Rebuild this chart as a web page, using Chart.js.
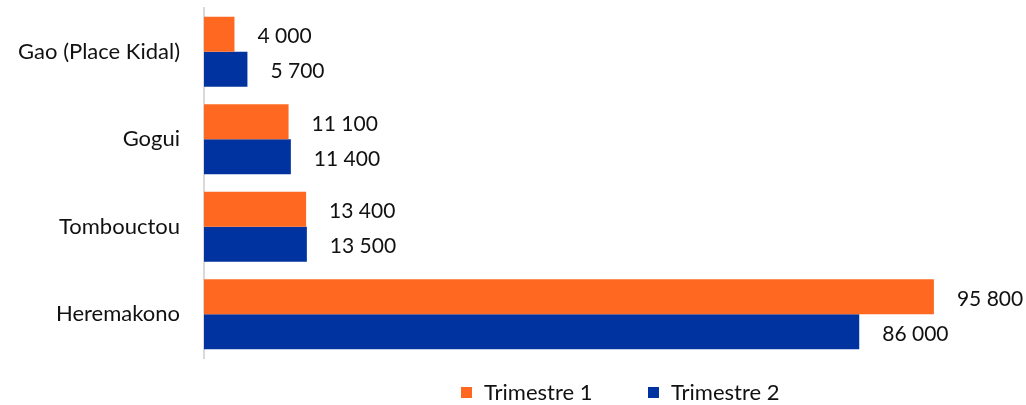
<!DOCTYPE html>
<html>
<head>
<meta charset="utf-8">
<script src="https://cdn.jsdelivr.net/npm/chart.js@4"></script>
<style>
  body { margin: 0; background: #fff; }
  #wrap { width: 1026px; height: 405px; }
</style>
</head>
<body>
<div id="wrap"><canvas id="bar-chart"></canvas></div>
<script>
let lieux = ["Gao (Place Kidal)", "Gogui", "Tombouctou", "Heremakono"];
let dataTrim1 = [4000, 11100, 13400, 95800];
let dataTrim2 = [5700, 11400, 13500, 86000];
let labelsSeries = ["Trimestre 1", "Trimestre 2"];

const police = 'Lato';
const formatNombre = (v) => String(v).replace(/\B(?=(\d{3})+(?!\d))/g, " ");

// etiquettes de valeur a droite des barres
const etiquettes = {
    id: 'etiquettes',
    afterDatasetsDraw(chart) {
        let ctx = chart.ctx;
        ctx.save();
        ctx.font = '21px ' + police;
        ctx.fillStyle = '#111';
        ctx.textAlign = 'left';
        ctx.textBaseline = 'middle';
        chart.data.datasets.forEach((ds, i) => {
            let meta = chart.getDatasetMeta(i);
            meta.data.forEach((bar, j) => {
                ctx.fillText(formatNombre(ds.data[j]), bar.x + 23, bar.y + 2);
            });
        });
        ctx.restore();
    }
};

// legende dessinee a la main sous le graphique
const legende = {
    id: 'legende',
    afterDraw(chart) {
        let ctx = chart.ctx;
        let xs = [461, 648];
        ctx.save();
        ctx.font = '22px ' + police;
        ctx.textAlign = 'left';
        ctx.textBaseline = 'middle';
        chart.data.datasets.forEach((ds, i) => {
            ctx.fillStyle = ds.backgroundColor;
            ctx.fillRect(xs[i], 387, 11, 11);
            ctx.fillStyle = '#111';
            ctx.fillText(ds.label, xs[i] + 23, 393);
        });
        ctx.restore();
    }
};

new Chart(document.getElementById("bar-chart"), {
    type: 'bar',
    data: {
        labels: lieux,
        datasets: [{
            label: labelsSeries[0],
            data: dataTrim1,
            backgroundColor: '#ff6820',
            categoryPercentage: 0.8,
            barPercentage: 1.0
        }, {
            label: labelsSeries[1],
            data: dataTrim2,
            backgroundColor: '#0033a0',
            categoryPercentage: 0.8,
            barPercentage: 1.0
        }]
    },
    options: {
        indexAxis: 'y',
        responsive: true,
        maintainAspectRatio: false,
        animation: false,
        layout: { padding: { top: 8, right: 22, left: 0, bottom: 47 } },
        scales: {
            x: {
                display: false,
                min: 0,
                max: 105000
            },
            y: {
                afterFit: (axis) => {
                    axis.width = 204;
                    axis.paddingTop = 0;
                    axis.paddingBottom = 0;
                },
                grid: { display: false, drawTicks: false },
                border: { color: '#d9d9d9', width: 2 },
                ticks: {
                    color: '#111',
                    padding: 24,
                    font: { family: police, size: 22 }
                }
            }
        },
        plugins: {
            legend: { display: false },
            tooltip: { enabled: false }
        }
    },
    plugins: [etiquettes, legende]
});
</script>
</body>
</html>
